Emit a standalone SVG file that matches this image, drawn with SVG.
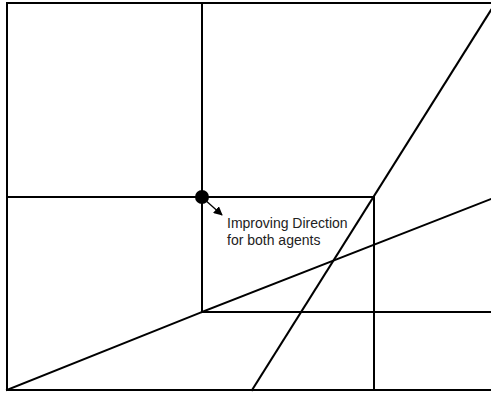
<svg xmlns="http://www.w3.org/2000/svg" width="491" height="397" viewBox="0 0 491 397">
<style>
.ln{stroke:#000;stroke-width:2;fill:none;stroke-linecap:square}
.lbl{font-family:"Liberation Sans",Arial,sans-serif;font-size:14px;fill:#222}
</style>
<defs>
<marker id="ah" viewBox="0 0 10 10" refX="9" refY="5" markerWidth="9" markerHeight="9" markerUnits="userSpaceOnUse" orient="auto">
<path d="M0,0 L10,5 L0,10 z" fill="#000"/>
</marker>
</defs>
<rect width="491" height="397" fill="#fff"/>
<g id="connectors">
<path class="ln" d="M491,3 H7 V390 H491"/>
<line class="ln" x1="202" y1="3" x2="202" y2="312"/>
<line class="ln" x1="7" y1="197" x2="374" y2="197"/>
<line class="ln" x1="374" y1="197" x2="374" y2="390"/>
<line class="ln" x1="202" y1="312" x2="491" y2="312"/>
<line class="ln" x1="7" y1="390" x2="202" y2="312"/>
<line class="ln" x1="202" y1="312" x2="491" y2="199"/>
<line class="ln" x1="252" y1="390" x2="491" y2="10"/>
<line x1="204" y1="199" x2="222" y2="215" stroke="#000" stroke-width="1.3" marker-end="url(#ah)"/>
</g>
<g id="point">
<circle cx="202" cy="197" r="7" fill="#000"/>
</g>
<g id="label">
<text class="lbl" x="227" y="228">Improving Direction</text>
<text class="lbl" x="227" y="245">for both agents</text>
</g>
</svg>
